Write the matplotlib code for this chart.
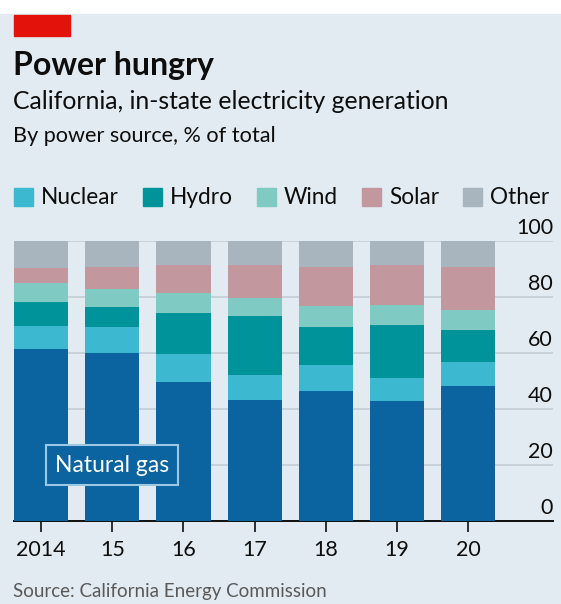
import matplotlib.pyplot as plt
import matplotlib.patches as mpatches
import matplotlib.transforms as mtransforms
import numpy as np

# Data (% of total in-state generation)
years = ['2014', '15', '16', '17', '18', '19', '20']
natural_gas = [61.3, 59.9, 49.8, 43.2, 46.4, 43.0, 48.3]
nuclear = [8.5, 9.5, 9.8, 8.9, 9.3, 8.0, 8.6]
hydro = [8.5, 6.9, 14.6, 21.1, 13.7, 19.0, 11.3]
wind = [6.6, 6.5, 7.1, 6.3, 7.4, 7.1, 7.2]
solar = [5.4, 8.0, 10.1, 11.9, 14.0, 14.3, 15.4]
other = [9.7, 9.2, 8.6, 8.6, 9.2, 8.6, 9.2]

series = ['Natural gas', 'Nuclear', 'Hydro', 'Wind', 'Solar', 'Other']
colors = ['#0b64a0', '#3cb9d0', '#00949a', '#7fcbc3', '#c3979e', '#a8b5be']
y_ticks = [0, 20, 40, 60, 80, 100]

plt.rcParams['font.family'] = ['Lato', 'DejaVu Sans']
BG = '#e2ebf1'

W, H = 561, 604
fig = plt.figure(figsize=(W / 100, H / 100), dpi=100)
fig.patch.set_facecolor('white')
fig.patches.append(mpatches.Rectangle((0, 0), 1, (H - 14) / H, transform=fig.transFigure,
                                      color=BG, zorder=-10))
fig.patches.append(mpatches.Rectangle((14 / W, 1 - 36 / H), 56 / W, 21 / H,
                                      transform=fig.transFigure, color='#e3120b'))

fig.text(13 / W, 1 - 75 / H, 'Power hungry', fontsize=23, fontweight='bold',
         color='#0d0d0d', va='baseline')
fig.text(13 / W, 1 - 109 / H, 'California, in-state electricity generation', fontsize=17.8,
         color='#0d0d0d', va='baseline')
fig.text(13 / W, 1 - 142 / H, 'By power source, % of total', fontsize=15.6,
         color='#0d0d0d', va='baseline')
fig.text(13 / W, 1 - 597 / H, 'Source: California Energy Commission', fontsize=13.5,
         color='#595959', va='baseline')

ax = fig.add_axes([14 / W, 83 / H, (553 - 14) / W, 280 / H])
ax.set_facecolor(BG)
x = np.arange(len(years))
bottom = np.zeros(len(years))
data = [natural_gas, nuclear, hydro, wind, solar, other]
for name, vals, c in zip(series, data, colors):
    ax.bar(x, vals, width=0.76, bottom=bottom, color=c, label=name, zorder=3)
    bottom += np.array(vals)

ax.set_ylim(0, 100)
ax.set_xlim(-0.38, 7.19)
ax.set_yticks([])
for v in y_ticks[1:]:
    ax.axhline(v, color='#c2ced6', lw=1.2, zorder=1)
trans = mtransforms.blended_transform_factory(ax.transAxes, ax.transData)
for v in y_ticks:
    ax.text(1.0, v + 1.2, str(v), transform=trans, ha='right', va='bottom',
            fontsize=15.5, color='#0d0d0d')

ax.set_xticks(x)
ax.set_xticklabels(years, fontsize=15.5, color='#0d0d0d')
ax.tick_params(axis='x', length=8, width=1.2, color='#0d0d0d', pad=6)
for s in ['top', 'left', 'right']:
    ax.spines[s].set_visible(False)
ax.spines['bottom'].set_linewidth(1.4)
ax.spines['bottom'].set_color('#0d0d0d')

ax.text(1, 20, 'Natural gas', ha='center', va='center', fontsize=16.5, color='white',
        zorder=5, bbox=dict(boxstyle='square,pad=0.4', fc=colors[0], ec='#9cc8e3', lw=1.5))

handles = [mpatches.Patch(color=c, label=n) for n, c in zip(series[1:], colors[1:])]
fig.legend(handles=handles, loc='center left', bbox_to_anchor=(14 / W, 1 - 198 / H),
           ncol=5, frameon=False, fontsize=16.3, handlelength=0.85, handleheight=0.85,
           handletextpad=0.35, columnspacing=1.05, borderaxespad=0, borderpad=0,
           labelcolor='#0d0d0d')

fig.savefig('out.png', dpi=100, facecolor=fig.get_facecolor())
